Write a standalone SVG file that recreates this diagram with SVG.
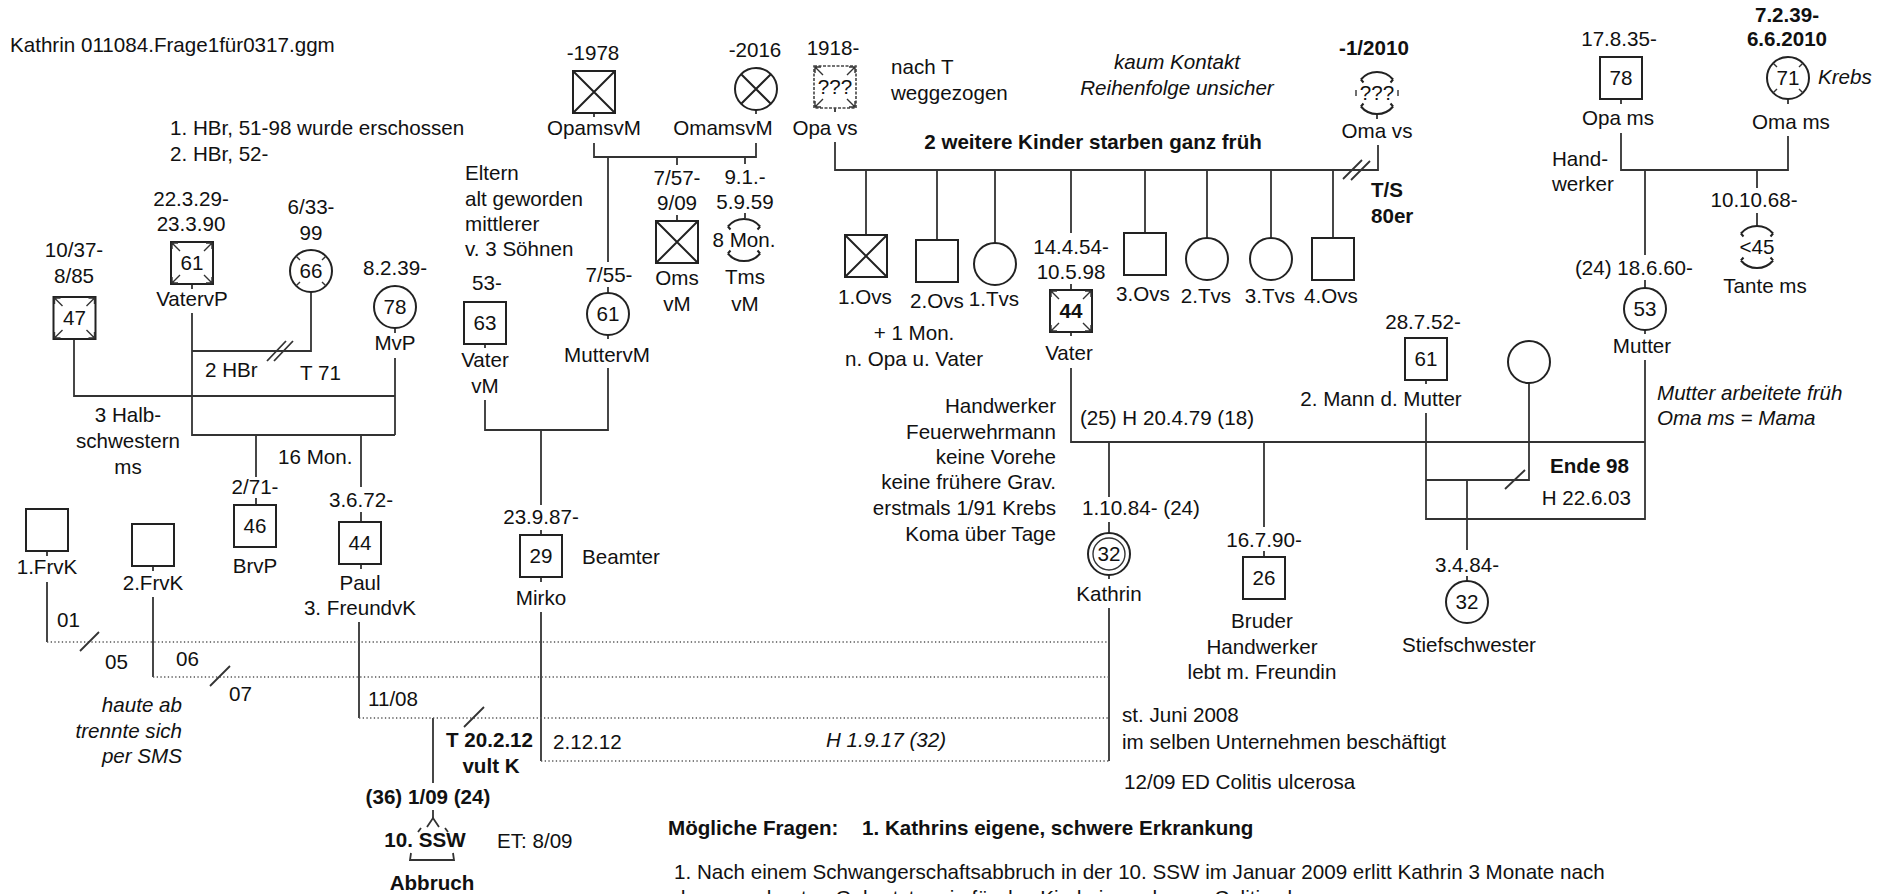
<svg xmlns="http://www.w3.org/2000/svg" xmlns:xlink="http://www.w3.org/1999/xlink" width="1877" height="894" viewBox="0 0 1877 894">
<style>
text{font-family:"Liberation Sans",Arial,sans-serif;font-size:20.6px;fill:#111}
.m{text-anchor:middle}.e{text-anchor:end}.b{font-weight:bold}.i{font-style:italic}
.s{fill:none;stroke:#222;stroke-width:2}
.l{fill:none;stroke:#333;stroke-width:1.8}
.d{fill:none;stroke:#555;stroke-width:1.6;stroke-dasharray:1.3 2.4}
.t{fill:none;stroke:#333;stroke-width:1.4}
.dq{fill:none;stroke:#444;stroke-width:1.6;stroke-dasharray:3 1.5}
</style>
<defs>
<rect id="sq" x="-21" y="-21" width="42" height="42" class="s"/>
<circle id="ci" r="21" class="s"/>
<path id="xs" d="M-21,-21L21,21M21,-21L-21,21" class="s"/>
<path id="xc" d="M-14.8,-14.8L14.8,14.8M14.8,-14.8L-14.8,14.8" class="s"/>
<path id="ca" class="t" d="M-20,-20L-12,-12M-20,-20V-14M-20,-20H-14M20,-20L12,-12M20,-20V-14M20,-20H14M-20,20L-12,12M-20,20V14M-20,20H-14M20,20L12,12M20,20V14M20,20H14"/>
<path id="ct" class="t" d="M-14.8,-14.8L-11,-11M14.8,-14.8L11,-11M-14.8,14.8L-11,11M14.8,14.8L11,11"/>
<path id="bc" class="s" d="M-16.1,-13.5A21,21 0 0 1 16.1,-13.5M-16.1,13.5A21,21 0 0 0 16.1,13.5M-16.1,-13.5L-13.5,-10.5M16.1,-13.5L13.5,-10.5M-16.1,13.5L-13.5,10.5M16.1,13.5L13.5,10.5"/>
</defs>
<rect width="1877" height="894" fill="#fff"/>

<g id="connectors">
<path class="l" d="M74,339V396H395M395,358V435M192,313V435H395M311,292V351H192M256,435V477M256,498V505M361,435V487M361,512V522M361,564V569M192,284V289M395,328V333M47,551V556M153,566V571"/>
<path class="l" d="M267,361L286,341M274,361L293,341"/>
<path class="l" d="M47,582V642M153,597V677M359,622V718M433,718V783M433,810V818M541,612V761M1109,608V761"/>
<path class="d" d="M47,642H1109M153,677H1109M359,718H1109M541,761H1109"/>
<path class="l" d="M80,651L99,632M210,686L230,666M464,727L484,707"/>
<path class="l" d="M594,113V117M594,143V157H756V143M756,110V114M608,157V262M608,287V293M608,335V339M677,157V165M677,215V221M745,157V164M745,213V218"/>
<path class="l" d="M485,344V348M485,400V430H608V368M541,430V505M541,530V535M541,577V582"/>
<path class="l" d="M835,108V112M835,142V170H1378V145M1377,115V119M866,170V235M937,170V240M995,170V243M1071,170V233M1145,170V233M1207,170V238M1271,170V238M1333,170V238"/>
<path class="l" d="M1343,179L1362,160M1351,180L1370,161"/>
<path class="l" d="M1071,284V290M1071,332V336M1071,368V442H1645M1645,360V519H1426V413M1426,380V384M1529,383V480H1426M1109,442V497M1109,522V533M1109,575V579M1264,442V527M1264,551V557M1467,480V550M1467,576V581"/>
<path class="l" d="M1505,489L1525,470"/>
<path class="l" d="M1621,99V104M1788,99V104M1621,133V170H1788V136M1645,170V255M1645,280V288M1645,330V334M1757,170V188M1757,213V226"/>
<path class="l" d="M427,827L433,818L439,827M418,832L421,828M445,828L448,832M411,853L410,860H454L453,853"/>
</g>

<text x="10" y="52">Kathrin 011084.Frage1für0317.ggm</text>
<text x="170" y="135">1. HBr, 51-98 wurde erschossen</text>
<text x="170" y="161">2. HBr, 52-</text>

<g id="VatervP"><text class="m" x="191" y="206">22.3.29-</text><text class="m" x="191" y="231">23.3.90</text><use href="#sq" x="192" y="263"/><use href="#ca" x="192" y="263"/><text class="m" x="192" y="270">61</text><text class="m" x="192" y="306">VatervP</text></g>
<g id="Frau66"><text class="m" x="311" y="214">6/33-</text><text class="m" x="311" y="240">99</text><use href="#ci" x="311" y="271"/><use href="#ct" x="311" y="271"/><text class="m" x="311" y="278">66</text></g>
<g id="Mann47"><text class="m" x="74" y="257">10/37-</text><text class="m" x="74" y="283">8/85</text><use href="#sq" x="74.5" y="318"/><use href="#ca" x="74.5" y="318"/><text class="m" x="74.5" y="325">47</text></g>
<g id="MvP"><text class="m" x="395" y="275">8.2.39-</text><use href="#ci" x="395" y="307"/><text class="m" x="395" y="314">78</text><text class="m" x="395" y="350">MvP</text></g>
<text x="205" y="377">2 HBr</text><text x="300" y="380">T 71</text>
<text class="m" x="128" y="422">3 Halb-</text><text class="m" x="128" y="448">schwestern</text><text class="m" x="128" y="474">ms</text>
<text x="278" y="464">16 Mon.</text>
<g id="BrvP"><text class="m" x="255" y="494">2/71-</text><use href="#sq" x="255" y="526"/><text class="m" x="255" y="533">46</text><text class="m" x="255" y="573">BrvP</text></g>
<g id="Paul"><text class="m" x="361" y="507">3.6.72-</text><use href="#sq" x="360" y="543"/><text class="m" x="360" y="550">44</text><text class="m" x="360" y="590">Paul</text><text class="m" x="360" y="615">3. FreundvK</text></g>
<g id="FrvK1"><use href="#sq" x="47" y="530"/><text class="m" x="47" y="574">1.FrvK</text></g>
<g id="FrvK2"><use href="#sq" x="153" y="545"/><text class="m" x="153" y="590">2.FrvK</text></g>

<text x="57" y="627">01</text><text x="105" y="669">05</text><text x="176" y="666">06</text><text x="229" y="701">07</text>
<text class="e i" x="182" y="712">haute ab</text><text class="e i" x="182" y="738">trennte sich</text><text class="e i" x="182" y="763">per SMS</text>
<text x="368" y="706">11/08</text>
<text class="b" x="446" y="747">T 20.2.12</text><text class="b m" x="491" y="773">vult K</text>
<text x="553" y="749">2.12.12</text>
<g id="Abbruch"><text class="b m" x="428" y="804">(36) 1/09 (24)</text><text class="b m" x="425" y="847">10. SSW</text><text class="b m" x="432" y="890">Abbruch</text></g>
<text x="497" y="848">ET: 8/09</text>
<text class="i m" x="886" y="747">H 1.9.17 (32)</text>

<g id="OpamsvM"><text class="m" x="593" y="60">-1978</text><use href="#sq" x="594" y="92"/><use href="#xs" x="594" y="92"/><text class="m" x="594" y="135">OpamsvM</text></g>
<g id="OmamsvM"><text class="m" x="755" y="57">-2016</text><use href="#ci" x="756" y="89"/><use href="#xc" x="756" y="89"/><text class="m" x="723" y="135">OmamsvM</text></g>
<g id="Oms"><text class="m" x="677" y="185">7/57-</text><text class="m" x="677" y="210">9/09</text><use href="#sq" x="677" y="242"/><use href="#xs" x="677" y="242"/><text class="m" x="677" y="285">Oms</text><text class="m" x="677" y="311">vM</text></g>
<g id="Tms"><text class="m" x="745" y="184">9.1.-</text><text class="m" x="745" y="209">5.9.59</text><use href="#bc" x="744" y="240"/><text class="m" x="744" y="247">8 Mon.</text><text class="m" x="745" y="284">Tms</text><text class="m" x="745" y="311">vM</text></g>
<g id="MuttervM"><text class="m" x="609" y="282">7/55-</text><use href="#ci" x="608" y="314"/><text class="m" x="608" y="321">61</text><text class="m" x="607" y="362">MuttervM</text></g>
<text x="465" y="180">Eltern</text><text x="465" y="206">alt geworden</text><text x="465" y="231">mittlerer</text><text x="465" y="256">v. 3 Söhnen</text>
<g id="VatervM"><text x="472" y="290">53-</text><use href="#sq" x="485" y="323"/><text class="m" x="485" y="330">63</text><text class="m" x="485" y="367">Vater</text><text class="m" x="485" y="393">vM</text></g>
<g id="Mirko"><text class="m" x="541" y="524">23.9.87-</text><use href="#sq" x="541" y="556"/><text class="m" x="541" y="563">29</text><text x="582" y="564">Beamter</text><text class="m" x="541" y="605">Mirko</text></g>

<g id="Opavs"><text class="m" x="833" y="55">1918-</text><rect x="814" y="66" width="42" height="42" class="dq"/><use href="#ca" x="835" y="87"/><text class="m" x="835" y="94">???</text><text class="m" x="825" y="135">Opa vs</text></g>
<text x="891" y="74">nach T</text><text x="891" y="100">weggezogen</text>
<text class="i m" x="1177" y="69">kaum Kontakt</text><text class="i m" x="1177" y="95">Reihenfolge unsicher</text>
<text class="b m" x="1093" y="149">2 weitere Kinder starben ganz früh</text>
<g id="Omavs"><text class="b m" x="1374" y="55">-1/2010</text><use href="#bc" x="1377" y="93"/><path class="t" d="M1356,90V96M1398,90V96"/><text class="m" x="1377" y="100">???</text><text class="m" x="1377" y="138">Oma vs</text></g>
<text class="b" x="1371" y="197">T/S</text><text class="b" x="1371" y="223">80er</text>

<g id="Ovs1"><use href="#sq" x="866" y="256"/><use href="#xs" x="866" y="256"/><text class="m" x="865" y="304">1.Ovs</text></g>
<g id="Ovs2"><use href="#sq" x="937" y="261"/><text class="m" x="937" y="308">2.Ovs</text></g>
<g id="Tvs1"><use href="#ci" x="995" y="264"/><text class="m" x="994" y="306">1.Tvs</text></g>
<g id="Ovs3"><use href="#sq" x="1145" y="254"/><text class="m" x="1143" y="301">3.Ovs</text></g>
<g id="Tvs2"><use href="#ci" x="1207" y="259"/><text class="m" x="1206" y="303">2.Tvs</text></g>
<g id="Tvs3"><use href="#ci" x="1271" y="259"/><text class="m" x="1270" y="303">3.Tvs</text></g>
<g id="Ovs4"><use href="#sq" x="1333" y="259"/><text class="m" x="1331" y="303">4.Ovs</text></g>
<text class="m" x="914" y="340">+ 1 Mon.</text><text class="m" x="914" y="366">n. Opa u. Vater</text>
<g id="Vater"><text class="m" x="1071" y="254">14.4.54-</text><text class="m" x="1071" y="279">10.5.98</text><use href="#sq" x="1071" y="311"/><use href="#ca" x="1071" y="311"/><text class="m b" x="1071" y="318">44</text><text class="m" x="1069" y="360">Vater</text></g>
<text class="e" x="1056" y="413">Handwerker</text><text class="e" x="1056" y="439">Feuerwehrmann</text><text class="e" x="1056" y="464">keine Vorehe</text><text class="e" x="1056" y="489">keine frühere Grav.</text><text class="e" x="1056" y="515">erstmals 1/91 Krebs</text><text class="e" x="1056" y="541">Koma über Tage</text>
<text x="1080" y="425">(25) H 20.4.79 (18)</text>
<g id="Kathrin"><text x="1082" y="515">1.10.84- (24)</text><use href="#ci" x="1109" y="554"/><circle cx="1109" cy="554" r="16" class="t"/><text class="m" x="1109" y="561">32</text><text class="m" x="1109" y="601">Kathrin</text></g>
<g id="Bruder"><text class="m" x="1264" y="547">16.7.90-</text><use href="#sq" x="1264" y="578"/><text class="m" x="1264" y="585">26</text><text class="m" x="1262" y="628">Bruder</text><text class="m" x="1262" y="654">Handwerker</text><text class="m" x="1262" y="679">lebt m. Freundin</text></g>
<g id="Stiefschwester"><text class="m" x="1467" y="572">3.4.84-</text><use href="#ci" x="1467" y="602"/><text class="m" x="1467" y="609">32</text><text class="m" x="1469" y="652">Stiefschwester</text></g>
<g id="Mann2"><text class="m" x="1423" y="329">28.7.52-</text><use href="#sq" x="1426" y="359"/><text class="m" x="1426" y="366">61</text><text class="m" x="1381" y="406">2. Mann d. Mutter</text></g>
<g id="Frau2"><use href="#ci" x="1529" y="362"/></g>
<text class="b e" x="1629" y="473">Ende 98</text><text class="e" x="1631" y="505">H 22.6.03</text>
<text class="i" x="1657" y="400">Mutter arbeitete früh</text><text class="i" x="1657" y="425">Oma ms = Mama</text>

<g id="Opams"><text class="m" x="1619" y="46">17.8.35-</text><use href="#sq" x="1621" y="78"/><text class="m" x="1621" y="85">78</text><text class="m" x="1618" y="125">Opa ms</text></g>
<g id="Omams"><text class="b m" x="1787" y="22">7.2.39-</text><text class="b m" x="1787" y="46">6.6.2010</text><use href="#ci" x="1788" y="78"/><use href="#ct" x="1788" y="78"/><text class="m" x="1788" y="85">71</text><text class="i" x="1818" y="84">Krebs</text><text class="m" x="1791" y="129">Oma ms</text></g>
<text x="1552" y="166">Hand-</text><text x="1552" y="191">werker</text>
<g id="Mutter"><text x="1575" y="275">(24) 18.6.60-</text><use href="#ci" x="1645" y="309"/><text class="m" x="1645" y="316">53</text><text class="m" x="1642" y="353">Mutter</text></g>
<g id="Tantems"><text class="m" x="1754" y="207">10.10.68-</text><use href="#bc" x="1757" y="247"/><text class="m" x="1757" y="254">&lt;45</text><text class="m" x="1765" y="293">Tante ms</text></g>

<text x="1122" y="722">st. Juni 2008</text><text x="1122" y="749">im selben Unternehmen beschäftigt</text>
<text x="1124" y="789">12/09 ED Colitis ulcerosa</text>
<text class="b" x="668" y="835">Mögliche Fragen:</text><text class="b" x="862" y="835">1. Kathrins eigene, schwere Erkrankung</text>
<text x="674" y="879">1. Nach einem Schwangerschaftsabbruch in der 10. SSW im Januar 2009 erlitt Kathrin 3 Monate nach</text>
<text x="674" y="905">dem errechneten Geburtstermin für das Kind eine schwere Colitis ulcerosa.</text>
</svg>
